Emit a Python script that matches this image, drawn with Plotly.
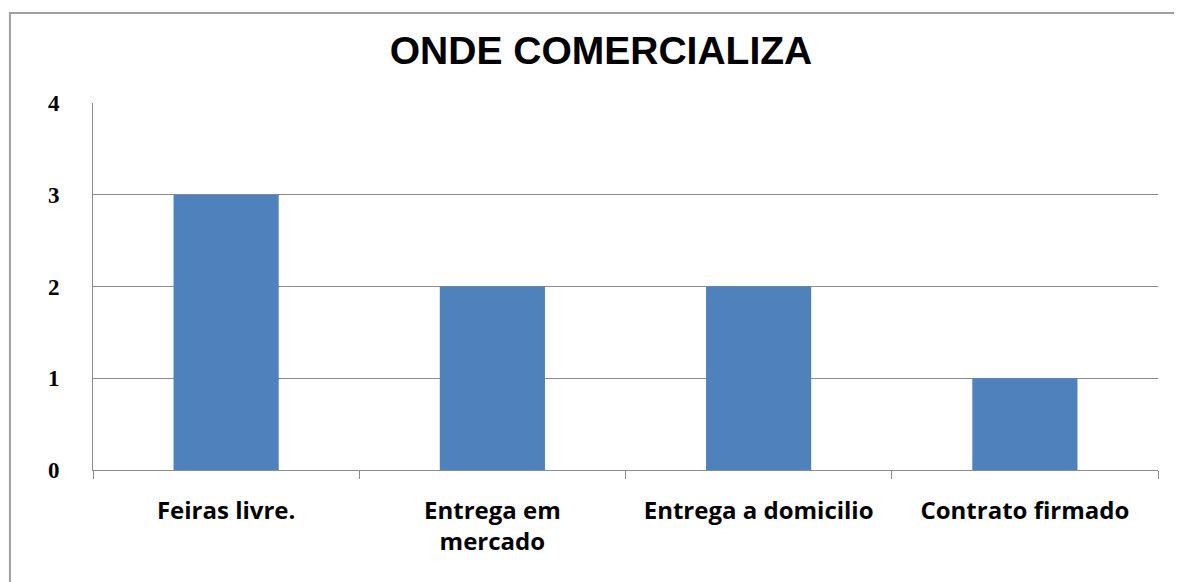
import plotly.graph_objects as go

categorias = ["Feiras livre.", "Entrega em<br>mercado", "Entrega a domicilio", "Contrato firmado"]
valores = [3, 2, 2, 1]
y_ticks = [0, 1, 2, 3, 4]

fig = go.Figure(
    data=[
        go.Bar(
            x=categorias,
            y=valores,
            marker=dict(color="#4F81BD", line=dict(width=0)),
            width=0.395,
        )
    ]
)

# the page has an 8px body margin, so the figure is a bit smaller than the window
fig.update_layout(
    width=1174,
    height=574,
    paper_bgcolor="white",
    plot_bgcolor="white",
    showlegend=False,
    margin=dict(l=85, r=24, t=95, b=112),
    title=dict(
        text="<b>ONDE COMERCIALIZA</b>",
        x=593 / 1174, xref="container", xanchor="center",
        y=1 - 42 / 574, yref="container", yanchor="middle",
        font=dict(family="Liberation Sans, Arial", size=39, color="black"),
    ),
    shapes=[
        dict(type="rect", xref="paper", yref="paper",
             x0=-0.078, x1=1.2, y0=-0.5, y1=1.245,
             line=dict(color="#a0a0a0", width=2), layer="below"),
    ],
)

fig.update_xaxes(
    type="category",
    showline=True, linecolor="#8c8c8c", linewidth=1,
    ticks="outside", tickson="boundaries", ticklen=8, tickcolor="#8c8c8c",
    showgrid=False,
    tickfont=dict(family="Open Sans", size=24, color="black", weight="bold"),
    ticklabelstandoff=19,
)
fig.update_yaxes(
    range=[0, 4], tickvals=y_ticks,
    showline=True, linecolor="#8c8c8c", linewidth=1,
    showgrid=True, gridcolor="#8c8c8c", gridwidth=1,
    zeroline=False, ticks="",
    tickfont=dict(family="Liberation Serif, Times New Roman", size=23, color="black", weight="bold"),
    ticklabelstandoff=28,
)

fig.write_html("out.html")
